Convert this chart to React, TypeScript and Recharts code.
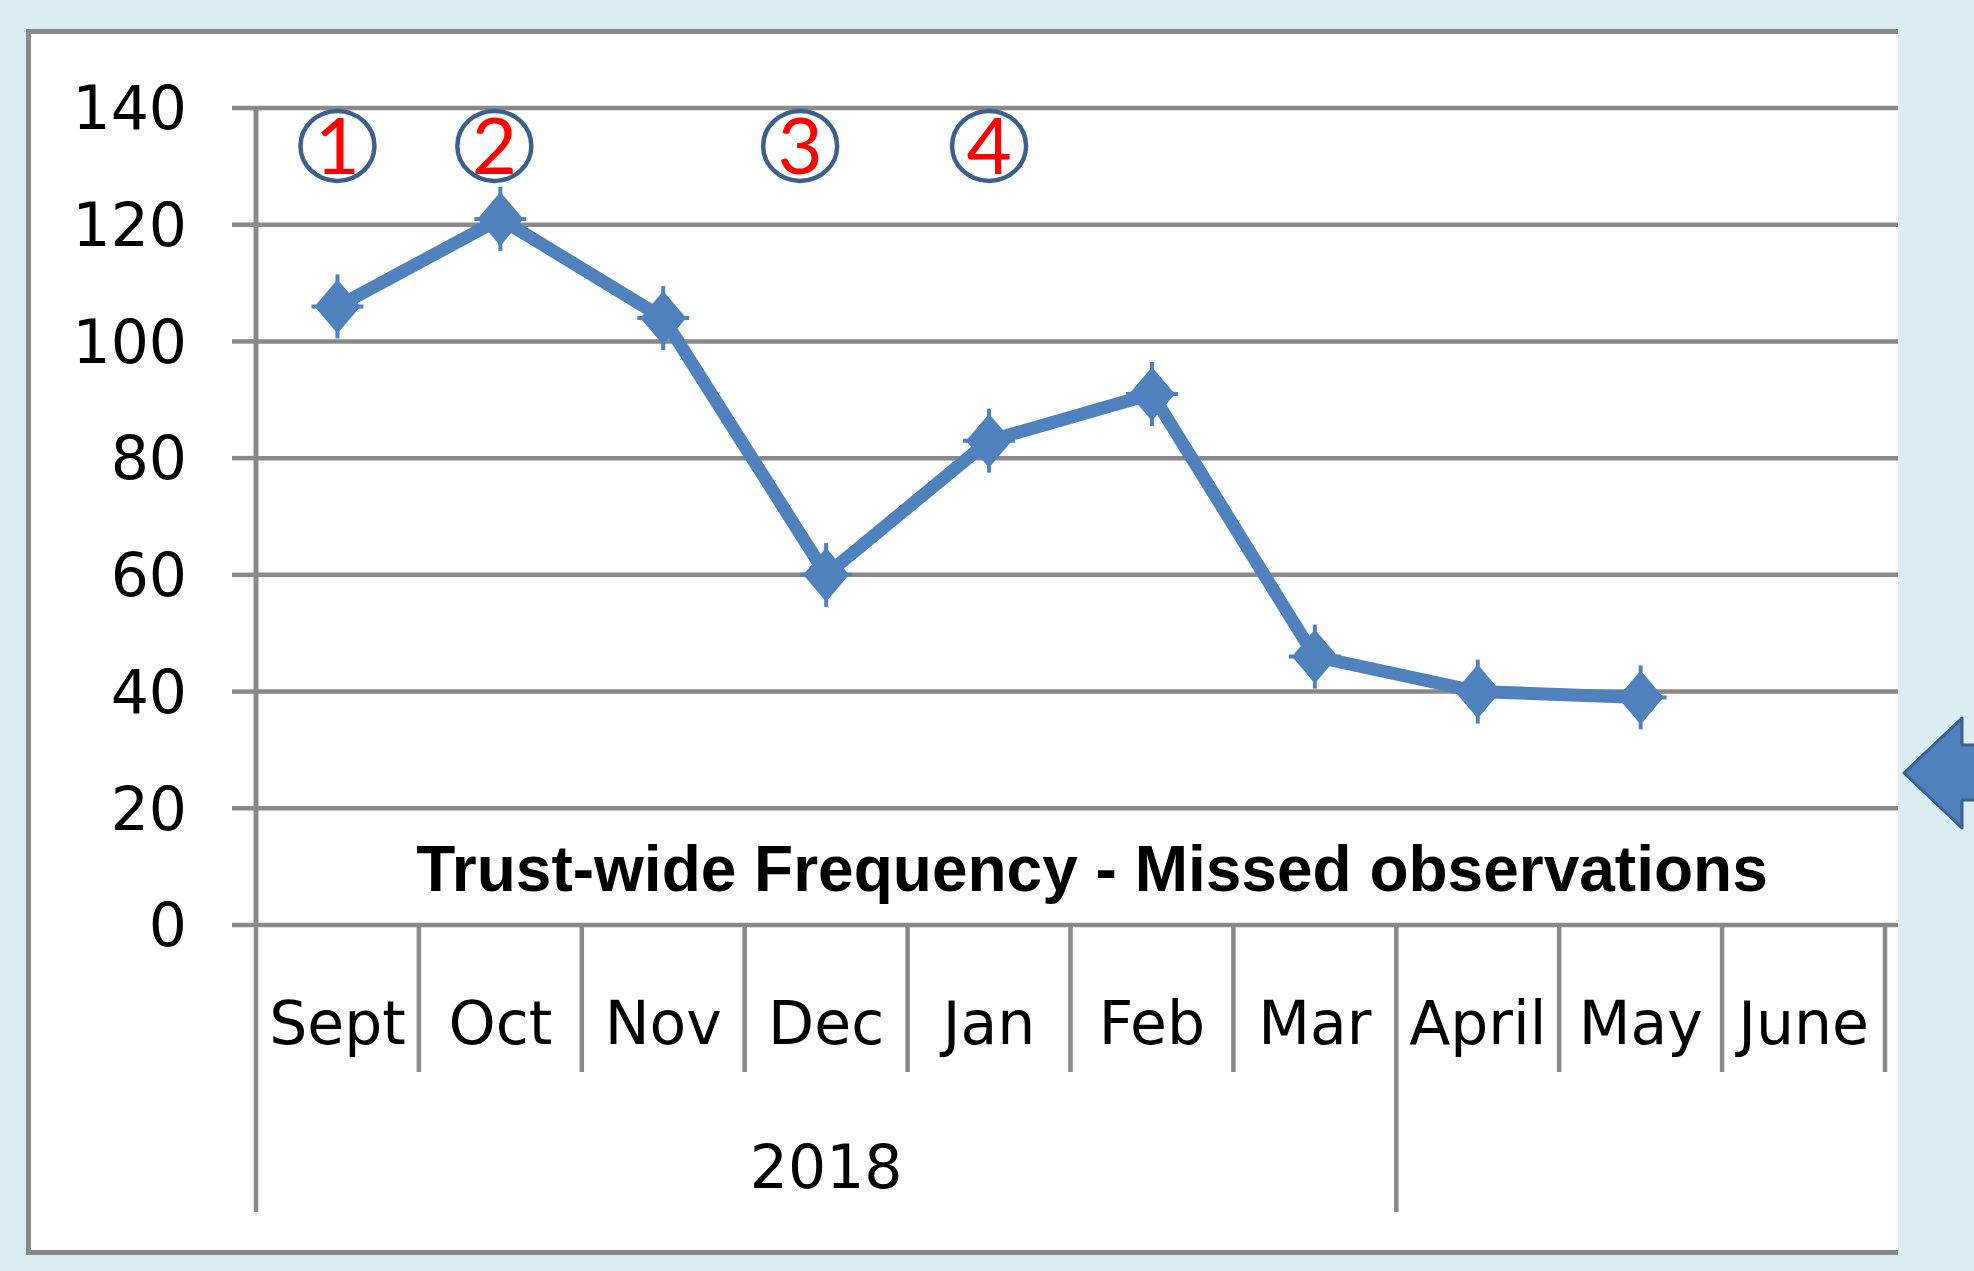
import React from 'react';
import { LineChart, Line, XAxis, YAxis, CartesianGrid, ReferenceDot } from 'recharts';

// data
const months = ['Sept', 'Oct', 'Nov', 'Dec', 'Jan', 'Feb', 'Mar', 'April', 'May', 'June'];
const missed: (number | null)[] = [106, 121, 104, 60, 83, 91, 46, 40, 39, null];
const yTicks = [0, 20, 40, 60, 80, 100, 120, 140];
const yearGroups = [
  { label: '2018', first: 0, last: 6 },
  { label: '', first: 7, last: 9 },
];
const callouts = [
  { month: 'Sept', text: '1' },
  { month: 'Oct', text: '2' },
  { month: 'Dec', text: '3' },
  { month: 'Jan', text: '4' },
];
const TITLE = 'Trust-wide Frequency - Missed observations';

const data = months.map((m, i) => ({ month: m, value: missed[i] }));

// layout
const W = 1974;
const H = 1271;
const PLOT_L = 256;
const PLOT_R = 1898;
const PLOT_T = 108;
const PLOT_B = 925;
const AXIS_END = 1885;
const BAND = (AXIS_END - PLOT_L) / months.length;
const Y_AXIS_W = 100;
const X_AXIS_H = 300;

const GRID = '#898989';
const BLUE = '#4F81BD';
const LABEL_FONT = '"DejaVu Sans", Verdana, sans-serif';

// callouts sit a little off their month in the original
const calloutNudge: Record<string, number> = { Oct: -6, Dec: -26 };

function MonthTick(props: any) {
  const { x, y, payload } = props;
  const i = props.index ?? payload.index;
  const left = x - BAND / 2;
  const group = yearGroups.find((g) => g.first === i);
  return (
    <g>
      <line x1={left} x2={left} y1={y} y2={y + (group ? 287 : 147)} stroke={GRID} strokeWidth={4.5} />
      {i === months.length - 1 && (
        <line x1={x + BAND / 2} x2={x + BAND / 2} y1={y} y2={y + 147} stroke={GRID} strokeWidth={4.5} />
      )}
      <text x={x} y={y + 119} textAnchor="middle" fontFamily={LABEL_FONT} fontSize={60} fill="#000">
        {payload.value}
      </text>
      {group && group.label && (
        <text
          x={left + ((group.last - group.first + 1) * BAND) / 2}
          y={y + 263}
          textAnchor="middle"
          fontFamily={LABEL_FONT}
          fontSize={60}
          fill="#000"
        >
          {group.label}
        </text>
      )}
    </g>
  );
}

const renderDot = (p: any) => {
  const { cx, cy, index } = p;
  if (cx == null || cy == null || p.value == null) return <g key={`d-${index}`} />;
  return (
    <g key={`d-${index}`}>
      <polygon points={`${cx},${cy - 27} ${cx + 23},${cy} ${cx},${cy + 27} ${cx - 23},${cy}`} fill={BLUE} />
      <line x1={cx} x2={cx} y1={cy - 32} y2={cy + 32} stroke={BLUE} strokeWidth={4} />
      <line x1={cx - 26} x2={cx + 26} y1={cy} y2={cy} stroke={BLUE} strokeWidth={4} />
    </g>
  );
};

const Callout = (text: string, dx: number) => (p: any) => {
  const cx = p.cx + dx;
  const cy = p.cy;
  return (
    <g>
      <ellipse cx={cx} cy={cy} rx={37} ry={35} fill="none" stroke="#3D5F8C" strokeWidth={4.5} />
      <text x={cx} y={cy + 28} textAnchor="middle" fontFamily="Lato, sans-serif" fontSize={78} fill="#FF0000">
        {text}
      </text>
    </g>
  );
};

export default function App() {
  return (
    <div style={{ position: 'absolute', left: 0, top: 0, width: W, height: H, background: '#DAEDF3', overflow: 'hidden' }}>
      <div
        style={{
          position: 'absolute',
          left: 26,
          top: 29,
          width: PLOT_R - 26,
          height: 1226,
          boxSizing: 'border-box',
          background: '#fff',
          borderTop: `5px solid ${GRID}`,
          borderLeft: `5px solid ${GRID}`,
          borderBottom: `5px solid ${GRID}`,
        }}
      />
      <div style={{ position: 'absolute', left: 0, top: 0 }}>
        <LineChart
          width={W}
          height={H}
          data={data}
          margin={{ top: PLOT_T, left: PLOT_L - Y_AXIS_W, right: W - PLOT_R, bottom: H - PLOT_B - X_AXIS_H }}
        >
          <CartesianGrid vertical={false} stroke={GRID} strokeWidth={4.5} />
          <XAxis
            dataKey="month"
            height={X_AXIS_H}
            interval={0}
            padding={{ left: BAND / 2, right: PLOT_R - AXIS_END + BAND / 2 }}
            axisLine={false}
            tickLine={false}
            tickSize={0}
            tickMargin={0}
            tick={(props: any) => <MonthTick {...props} />}
          />
          <YAxis
            width={Y_AXIS_W}
            domain={[0, 140]}
            ticks={yTicks}
            interval={0}
            tickSize={24}
            tickMargin={45}
            axisLine={{ stroke: GRID, strokeWidth: 5 }}
            tickLine={{ stroke: GRID, strokeWidth: 4.5 }}
            tick={{ fill: '#000', fontSize: 60, fontFamily: LABEL_FONT }}
          />
          <Line
            type="linear"
            dataKey="value"
            stroke={BLUE}
            strokeWidth={13}
            dot={renderDot}
            activeDot={false}
            isAnimationActive={false}
          />
          {callouts.map((c) => (
            <ReferenceDot
              key={c.text}
              x={c.month}
              y={133.5}
              r={0}
              shape={Callout(c.text, calloutNudge[c.month] ?? 0)}
            />
          ))}
        </LineChart>
      </div>
      <svg width={W} height={H} style={{ position: 'absolute', left: 0, top: 0, pointerEvents: 'none' }}>
        <text
          x={1092}
          y={891}
          textAnchor="middle"
          fontFamily='"Liberation Sans", Arial, sans-serif'
          fontWeight={700}
          fontSize={64}
          fill="#000"
        >
          {TITLE}
        </text>
        <polygon
          points="1904,773 1962,718 1962,745 1990,745 1990,800 1962,800 1962,828"
          fill={BLUE}
          stroke="#3A6190"
          strokeWidth={3}
          strokeLinejoin="round"
        />
      </svg>
    </div>
  );
}
